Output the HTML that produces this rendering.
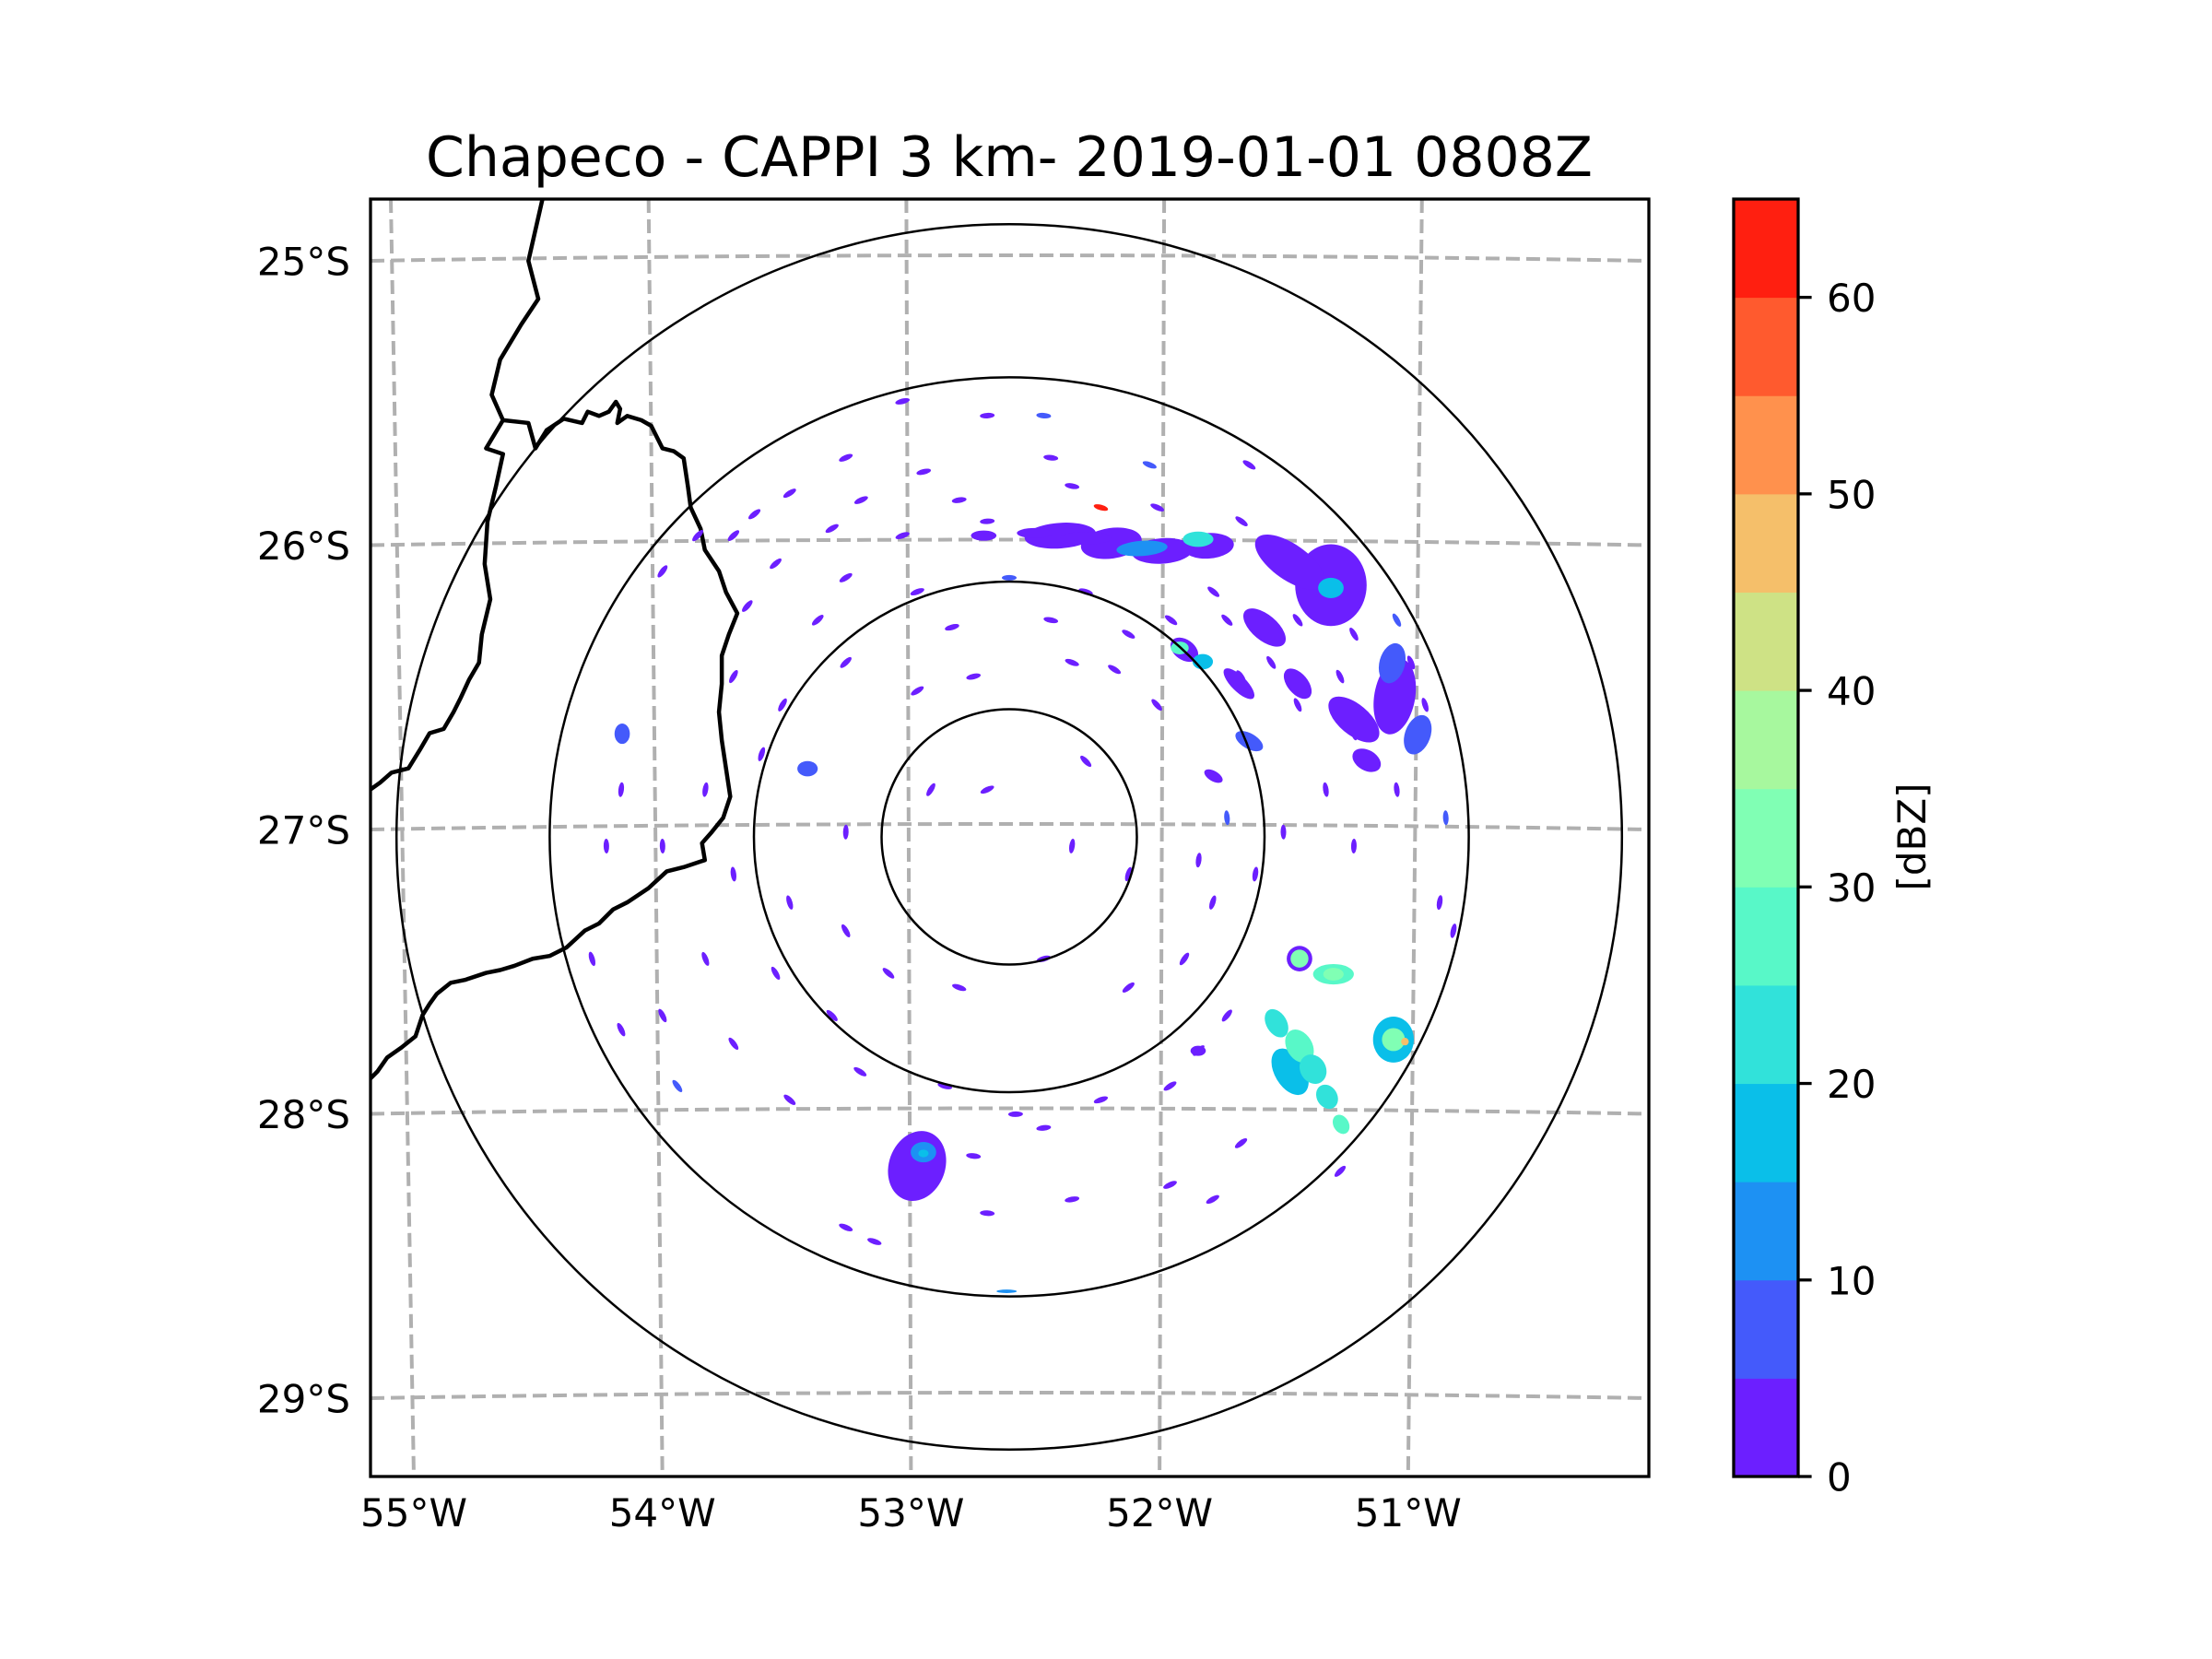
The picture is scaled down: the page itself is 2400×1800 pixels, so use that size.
<!DOCTYPE html>
<html><head><meta charset="utf-8">
<style>
html,body{margin:0;padding:0;background:#fff;}
svg{display:block;}
text{font-family:"DejaVu Sans","Liberation Sans",sans-serif;fill:#000;}
</style></head>
<body>
<svg id="fig" width="2400" height="1800" viewBox="0 0 2400 1800" xmlns="http://www.w3.org/2000/svg">
<defs><clipPath id="axclip"><rect x="402" y="216" width="1387" height="1386"/></clipPath></defs>
<rect x="0" y="0" width="2400" height="1800" fill="#fff"/>
<text x="1095" y="191" font-size="60" text-anchor="middle">Chapeco - CAPPI 3 km- 2019-01-01 0808Z</text>
<g id="mapArea" clip-path="url(#axclip)">
<g id="gridG"></g>
<g id="bordersG" transform="translate(-1,0) scale(1.5315,1.5298)" fill="none" stroke="#000" stroke-width="4.5" stroke-linejoin="round">
<path vector-effect="non-scaling-stroke" d="M385,141 L375,185 L382,212 L370,230 L355,255 L349,280 L357,298 L345,318 L357,322 L352,345 L346,370 L344,400 L348,425 L342,450 L340,470 L333,482 L327,495 L322,505 L315,517 L305,520 L298,532 L290,545 L278,548 L270,555 L263,560"/>
<path vector-effect="non-scaling-stroke" d="M357,298 L375,300 L380,318 L388,305 L400,297 L413,300 L417,292 L425,295 L432,292 L437,285 L440,290 L438,300 L445,295 L455,298 L462,302 L470,318 L478,320 L485,325 L488,345 L490,360 L497,375 L500,390 L510,405 L515,420 L523,435 L517,450 L512,465 L512,485 L510,505 L512,525 L515,545 L518,565 L513,580 L505,590 L498,598 L500,610 L485,615 L473,618 L460,630 L445,640 L435,645 L425,655 L415,660 L402,672 L390,678 L378,680 L365,685 L355,688 L345,690 L330,695 L320,697 L310,705 L305,712 L300,720 L295,735 L285,743 L275,750 L268,760 L263,765"/>
</g>
<g id="echoG"></g>
<g id="ringG"></g>
</g>
<rect x="402" y="216" width="1387" height="1386" fill="none" stroke="#000" stroke-width="3.3"/>
<g id="tickG"></g>
<g id="cbarG"></g>
<text transform="translate(2089,908) rotate(-90)" font-size="42" text-anchor="middle">[dBZ]</text>
</svg>
<script>
// ---- data ----
const latTicks = [-25, -26, -27, -28, -29];
const latLabels = ["25°S", "26°S", "27°S", "28°S", "29°S"];
const lonTicks = [-55, -54, -53, -52, -51];
const lonLabels = ["55°W", "54°W", "53°W", "52°W", "51°W"];
const ringRangesKm = [50, 100, 180, 240];
const cbarLevels = [0,5,10,15,20,25,30,35,40,45,50,55,60,65];
const cbarTicks = [0,10,20,30,40,50,60];
const cbarColors = ["#6c1fff","#445afb","#1d91f3","#0abfe9","#31e2da","#58f8c8","#80ffb4","#a7f89e","#cee285","#f5bf6a","#ff914d","#ff5a2e","#ff1f10"];
// echo clusters: east km, north km, semi-axis x km, semi-axis y km, rotation deg, dBZ
const echoEast  = [20,40,60,78,52,74, 126,110,126, 151,160, 68.6,66.8,75.8, 100,135,113,150,90,140, 113.7,113.7,127,127, 110,104.7,113.7,119,124.5,130, 150.5,150.5,155, -36.1,-33.6,-33.6, -79,-151.6,-1,94,80,74, 30,10,-10];
const echoNorth = [118,115,112,114,113,116.6, 98.6,107.6,97.5, 55,40, 73.3,74,68.6, 82,46,60,68,60,30, -47.7,-47.7,-53.8,-53.8, -92,-73,-82,-91,-101.8,-112.6, -79.4,-79.4,-80.2, -128.9,-123.5,-124, 26.7,40.4,-178,37.5,23.8,-83.8, 117,119,118];
const echoRx    = [14,12,12,10,10,6, 14,16,5, 8,5, 6,3.5,4, 10,12,7,5,8,6, 5,3.5,8,4, 10,6,7,6,5,4, 8,4.5,1.5, 11,5,2, 4,3,4,6,4,3, 10,7,5];
const echoRy    = [5,6,5,5,3,3, 16,7,4, 15,8, 4,2.5,3, 5,6,4,8,3,4, 5,3.5,4,2.5, 6,4,5,5,4,3, 9,4.5,1.5, 14,4,1.5, 3,4,0.7,3,2,2, 2.5,2,2];
const echoRot   = [-4,-8,-4,-4,-4,0, 0,35,0, 10,20, 35,0,0, 40,40,50,15,45,30, 0,0,0,0, 59,59,59,59,59,59, 0,0,0, 20,0,0, 0,0,0,30,30,0, 0,0,0];
const echoDbz   = [3,3,3,3,12,22, 3,3,17, 3,8, 3,27,15, 3,3,3,8,3,3, 3,32,28,33, 17,20,25,20,22,27, 15,30,47, 3,12,17, 5,8,12,5,3,3, 3,3,3];
// scattered speckle echoes (east km, north km)
const speckE = [-41.8,-8.6,13.5,-64,-33.5,16.3,55,94,-86,-58,-19.6,-99.8,-108,-122,-135.8,-69.4,-41.8,-8.6,24.6,-91.5,-64,-36,0,-102.6,-75,-22.4,16.3,30,46.7,-108,-88.8,-64,-36,-14,24.6,41.2,57.8,-97,-119,-135.8,-108,-86,-64,-91.5,-119,-135.8,-152,-108,-69.4,-47.3,-19.6,13.5,46.7,68.6,79.7,74.2,85.3,96.4,107.4,-86,-58.4,-25.2,2.5,35.9,74.2,85.3,63,-14,13.5,-52.8,-64,-8.6,24.6,63,79.7,90.8,129.6,-8.6,24.6,30,-30.7,-64,46.7,171,168.6,174,135,124,151.8,135,113,102.6,85.3,90.8,-152,-157.8,-163.4,-130,102,135,151.8,157.4,162.9,129.6,113,80,63.4,91,58,35.9];
const speckN = [170.6,165,165,148.5,143,148.5,145.7,145.7,134.6,131.9,131.9,126.4,118,118,104,120.8,118,123.6,137.4,107,101.5,96,101.5,90.4,84.9,82.1,84.9,96,79.4,62.8,51.7,68.3,57.2,62.8,68.3,65.6,51.7,32.4,18.5,-3.6,-14.6,-25.7,-36.8,-53.4,-47.8,-70,-75.5,-81,-70,-53.4,-59,-47.8,-59,-47.8,-25.7,-9.1,7.5,-14.6,1.9,-103,-92,-97.6,-108.6,-103,-83.7,-70,-97.6,-125,-114,-158.5,-153,-147.4,-142,-136.3,-142,-120,-131,18.5,-3.6,29.6,18.5,1.9,-14.6,7.5,-25.7,-36.8,-3.6,18.5,18.5,40.6,51.7,68.3,84.9,62.8,18.5,-3.6,-47.8,-97.6,107,79.4,84.9,68.3,51.7,62.8,84.9,96,84.9,123.6,129,129];
const speckDbz = [3,3,8,3,3,3,8,3,3,3,3,3,3,3,3,3,3,3,3,3,3,3,8,3,3,3,3,3,3,3,3,3,3,3,3,3,3,3,3,3,3,3,3,3,3,3,3,3,3,3,3,3,3,3,3,3,8,3,3,3,3,3,3,3,3,3,3,3,3,3,3,3,3,3,3,3,3,3,3,3,3,3,3,8,3,3,3,3,3,3,3,3,3,3,3,3,3,8,3,3,8,3,3,3,3,3,3,3,3];

// ---- scales ----
const CX = 1095, CY = 908, PXKM = 2.77;
const AX0 = 402, AX1 = 1789, AY0 = 216, AY1 = 1602;
function kx(e){ return CX + e*PXKM; }
function ky(n){ return CY - n*PXKM; }
function latY(lat){ return 283 + (-25 - lat)*308.5; }
function lonTopX(lon){ return 424 + (lon + 55)*279.7; }
function lonBotX(lon){ return 449 + (lon + 55)*269.7; }
function dbzColor(v){
  for (let i = 0; i < cbarColors.length; i++) if (v < cbarLevels[i+1]) return cbarColors[i];
  return cbarColors[cbarColors.length-1];
}
function cbY(v){ return AY1 - (v - cbarLevels[0])/(cbarLevels[cbarLevels.length-1]-cbarLevels[0])*(AY1-AY0); }
const NS = "http://www.w3.org/2000/svg";
function mk(tag, attrs, parent){ const el = document.createElementNS(NS, tag); for (const k in attrs) el.setAttribute(k, attrs[k]); parent.appendChild(el); return el; }

// ---- gridlines ----
const gridG = document.getElementById('gridG');
latTicks.forEach((lat, i) => {
  const y = latY(lat);
  const p = mk('path', {d:`M${AX0},${y} Q${(AX0+AX1)/2},${y-12} ${AX1},${y}`, fill:'none', stroke:'#b0b0b0', 'stroke-width':4, 'stroke-dasharray':'15 7'}, gridG);
  
  
});
lonTicks.forEach((lon, i) => {
  const p = mk('line', {x1:lonTopX(lon), y1:AY0, x2:lonBotX(lon), y2:AY1, stroke:'#b0b0b0', 'stroke-width':4, 'stroke-dasharray':'15 7'}, gridG);
  
  
});

// ---- echoes ----
const echoG = document.getElementById('echoG');
speckE.forEach((e, i) => {
  const x = kx(e), y = ky(speckN[i]);
  const ang = Math.atan2(y - CY, x - CX)*180/Math.PI + 90;
  const el = mk('ellipse', {cx:x, cy:y, rx:8, ry:3, fill:dbzColor(speckDbz[i]), transform:`rotate(${ang} ${x} ${y})`}, echoG);
  
  
});
echoEast.forEach((e, i) => {
  const x = kx(e), y = ky(echoNorth[i]);
  const el = mk('ellipse', {cx:x, cy:y, rx:echoRx[i]*PXKM, ry:echoRy[i]*PXKM, fill:dbzColor(echoDbz[i]), transform:`rotate(${echoRot[i]} ${x} ${y})`}, echoG);
  
  
});

// ---- range rings ----
const ringG = document.getElementById('ringG');
ringRangesKm.forEach(r => {
  const c = mk('circle', {cx:CX, cy:CY, r:r*PXKM, fill:'none', stroke:'#000', 'stroke-width':2.5}, ringG);
  
  
});

// ---- tick labels ----
const tickG = document.getElementById('tickG');
latTicks.forEach((lat, i) => {
  const t = mk('text', {x:380, y:latY(lat)+15.5, 'font-size':42, 'text-anchor':'end'}, tickG);
  t.textContent = latLabels[i];
  
  
});
lonTicks.forEach((lon, i) => {
  const t = mk('text', {x:lonBotX(lon), y:1656, 'font-size':42, 'text-anchor':'middle'}, tickG);
  t.textContent = lonLabels[i];
  
  
});

// ---- colorbar ----
const cbarG = document.getElementById('cbarG');
const CBX0 = 1881, CBX1 = 1951;
cbarColors.forEach((c, i) => {
  const y0 = cbY(cbarLevels[i+1]), y1 = cbY(cbarLevels[i]);
  const r = mk('rect', {x:CBX0, y:y0, width:CBX1-CBX0, height:y1-y0+0.5, fill:c}, cbarG);
  
  
});
const ol = mk('rect', {x:CBX0, y:AY0, width:CBX1-CBX0, height:AY1-AY0, fill:'none', stroke:'#000', 'stroke-width':3.3}, cbarG);


cbarTicks.forEach(v => {
  const y = cbY(v);
  const l = mk('line', {x1:CBX1, y1:y, x2:CBX1+14.6, y2:y, stroke:'#000', 'stroke-width':3.3}, cbarG);
  
  
  const t = mk('text', {x:1982, y:y+15.5, 'font-size':42}, cbarG);
  t.textContent = String(v);
  
  
});
</script>
</body></html>
